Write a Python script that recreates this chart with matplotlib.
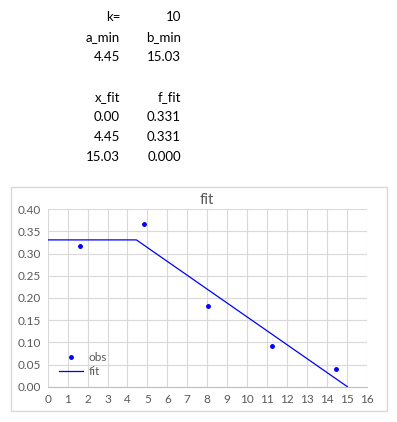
import matplotlib.pyplot as plt
from matplotlib.patches import Rectangle

# table values shown above the chart
k = 10
a_min = 4.45
b_min = 15.03
x_fit = [0.00, 4.45, 15.03]
f_fit = [0.331, 0.331, 0.000]

# observed points
x_obs = [1.62, 4.83, 8.04, 11.26, 14.47]
y_obs = [0.318, 0.367, 0.183, 0.092, 0.041]

plt.rcParams['font.family'] = ['Lato', 'DejaVu Sans']
txt = '#000000'
grey = '#595959'

fig = plt.figure(figsize=(3.97, 4.22), dpi=100)

# spreadsheet cells
col1, col2 = 120 / 397, 181 / 397
rows = [
    (17, 'k=', str(k)),
    (37, 'a_min', 'b_min'),
    (57, '%.2f' % a_min, '%.2f' % b_min),
    (97, 'x_fit', 'f_fit'),
]
for i in range(len(x_fit)):
    rows.append((117 + 20 * i, '%.2f' % x_fit[i], '%.3f' % f_fit[i]))
for yp, a, b in rows:
    y = 1 - yp / 422
    fig.text(col1, y, a, ha='right', va='center', fontsize=9.5, color=txt)
    fig.text(col2, y, b, ha='right', va='center', fontsize=9.5, color=txt)

# chart border
fig.patches.append(Rectangle((11 / 397, 1 - 411 / 422), 376 / 397, 224.3 / 422,
                             transform=fig.transFigure, fill=False,
                             edgecolor='#d9d9d9', linewidth=1))

ax = fig.add_axes([47.7 / 397, 1 - 386.7 / 422, 319 / 397, 177.4 / 422])
ax.plot(x_obs, y_obs, 'o', color='#0000ff', markersize=2.5, label='obs')
ax.plot(x_fit, f_fit, '-', color='#0000ff', linewidth=0.9, label='fit')
ax.set_xlim(0, 16)
ax.set_ylim(0, 0.40)
ax.set_xticks(range(0, 17))
ax.set_yticks([i * 0.05 for i in range(9)])
ax.set_yticklabels(['%.2f' % (i * 0.05) for i in range(9)])
ax.grid(True, color='#d9d9d9', linewidth=0.8)
ax.set_axisbelow(True)
for s in ax.spines.values():
    s.set_visible(False)
ax.spines['bottom'].set_visible(True)
ax.spines['bottom'].set_color('#bfbfbf')
ax.tick_params(length=0, labelsize=8.5, colors=grey, pad=5)
ax.set_title('fit', fontsize=11, color=grey, pad=4)
ax.legend(loc='lower left', bbox_to_anchor=(0.01, 0.01), frameon=False,
          fontsize=8.5, labelcolor=grey, handlelength=2.0, handletextpad=0.5,
          borderpad=0.2, labelspacing=0.2)

fig.savefig('out.png', dpi=100)
